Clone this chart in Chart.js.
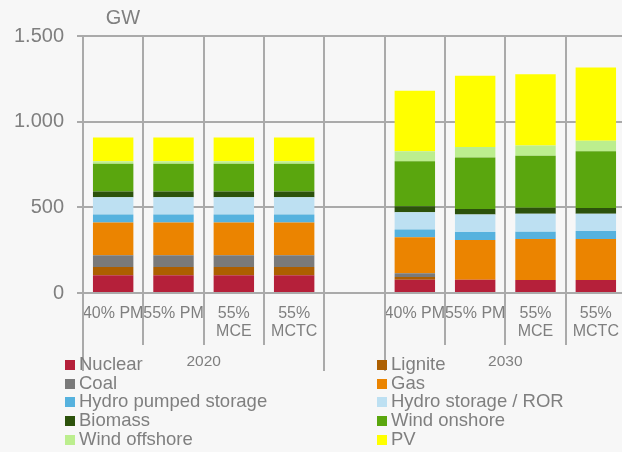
<!DOCTYPE html>
<html>
<head>
<meta charset="utf-8">
<script src="https://cdn.jsdelivr.net/npm/chart.js@4/dist/chart.umd.min.js"></script>
<style>
  html, body { margin: 0; padding: 0; background: #f7f7f7; overflow: hidden; width: 622px; height: 452px; }
  #wrap { position: absolute; left: 0; top: 0; width: 628px; height: 452px; }
</style>
</head>
<body>
<div id="wrap"><canvas id="c" width="628" height="452"></canvas></div>
<script>
// ---- data ----
const categories = [['40% PM'], ['55% PM'], ['55%', 'MCE'], ['55%', 'MCTC'], [''],
                    ['40% PM'], ['55% PM'], ['55%', 'MCE'], ['55%', 'MCTC']];
const groups = ['2020', '2030'];
const groupRanges = [[0, 3], [5, 8]];
const yTickLabels = ['0', '500', '1.000', '1.500'];
const yTickValues = [0, 500, 1000, 1500];
const unitLabel = 'GW';

const seriesNames = ['Nuclear', 'Lignite', 'Coal', 'Gas', 'Hydro pumped storage',
                     'Hydro storage / ROR', 'Biomass', 'Wind onshore', 'Wind offshore', 'PV'];
const nuclear      = [103, 103, 103, 103, null, 78, 78, 76, 76];
const lignite      = [49, 49, 49, 49, null, 16, 0, 0, 0];
const coal         = [68, 68, 68, 68, null, 21, 0, 0, 0];
const gas          = [191, 191, 191, 191, null, 210, 231, 239, 239];
const hydroPumped  = [47, 47, 47, 47, null, 45, 47, 43, 47];
const hydroStorage = [101, 101, 101, 101, null, 101, 102, 105, 101];
const biomass      = [33, 33, 33, 33, null, 35, 32, 35, 33];
const windOnshore  = [163, 163, 163, 163, null, 263, 301, 303, 332];
const windOffshore = [14, 14, 14, 14, null, 58, 61, 60, 60];
const pv           = [138, 138, 138, 138, null, 354, 416, 416, 428];

const seriesData = [nuclear, lignite, coal, gas, hydroPumped, hydroStorage, biomass, windOnshore, windOffshore, pv];
const seriesColors = ['#b5203a', '#ad5f00', '#7a7a7a', '#eb8400', '#56b2de',
                      '#bde0f2', '#2c520c', '#5aa60e', '#bcee8e', '#ffff00'];

// ---- styling ----
const FONT = "'Liberation Sans', Arial, sans-serif";
const TEXT = '#7f7f7f';
const GRID = '#aaaaaa';

const extras = {
  id: 'extras',
  afterDraw(chart) {
    const ctx = chart.ctx;
    const xs = chart.scales.x;
    const bottom = chart.chartArea.bottom;
    const n = categories.length;
    const w = xs.getPixelForValue(1) - xs.getPixelForValue(0);
    const groupEdges = [0];
    groupRanges.forEach(r => { groupEdges.push(r[0]); groupEdges.push(r[1] + 1); });
    ctx.save();
    ctx.strokeStyle = GRID;
    ctx.lineWidth = 2;
    for (let i = 0; i <= n; i++) {
      const bx = Math.round(xs.getPixelForValue(0) - w / 2 + i * w);
      const toY = groupEdges.includes(i) ? 371 : 345;
      ctx.beginPath();
      ctx.moveTo(bx, bottom);
      ctx.lineTo(bx, toY);
      ctx.stroke();
    }
    // group labels
    ctx.fillStyle = TEXT;
    ctx.textAlign = 'center';
    ctx.textBaseline = 'middle';
    ctx.font = '15.5px ' + FONT;
    groupRanges.forEach((r, gi) => {
      const cx = (xs.getPixelForValue(r[0]) + xs.getPixelForValue(r[1])) / 2;
      ctx.fillText(groups[gi], cx, 362);
    });
    // unit label
    ctx.font = '20px ' + FONT;
    ctx.fillText(unitLabel, 123, 18);
    // legend (two columns, row-wise)
    ctx.font = '18.5px ' + FONT;
    ctx.textAlign = 'left';
    const colX = [65, 377];
    for (let i = 0; i < seriesNames.length; i++) {
      const row = Math.floor(i / 2), col = i % 2;
      const cy = 364.8 + row * 18.7;
      ctx.fillStyle = seriesColors[i];
      ctx.fillRect(colX[col], Math.round(cy - 5), 10, 10);
      ctx.fillStyle = TEXT;
      ctx.fillText(seriesNames[i], colX[col] + 14, cy);
    }
    ctx.restore();
  }
};

new Chart(document.getElementById('c'), {
  type: 'bar',
  data: {
    labels: categories,
    datasets: seriesNames.map((name, i) => ({
      label: name,
      data: seriesData[i],
      backgroundColor: seriesColors[i],
      borderWidth: 0,
      categoryPercentage: 1,
      barPercentage: 0.67
    }))
  },
  options: {
    responsive: false,
    animation: false,
    layout: { padding: { top: 36, right: 2, bottom: 0, left: 0 } },
    plugins: { legend: { display: false }, tooltip: { enabled: false } },
    scales: {
      x: {
        stacked: true,
        grid: { color: GRID, lineWidth: 2, drawTicks: false, offset: true },
        border: { color: GRID, width: 2 },
        ticks: {
          autoSkip: false, maxRotation: 0, minRotation: 0,
          color: TEXT, padding: 12,
          font: { family: FONT, size: 16, lineHeight: 1.125 }
        },
        afterFit(s) { s.height = 159; s.paddingLeft = 0; s.paddingRight = 0; }
      },
      y: {
        stacked: true,
        min: 0, max: 1500,
        afterBuildTicks(s) { s.ticks = yTickValues.map(v => ({ value: v })); },
        grid: { color: GRID, lineWidth: 2, tickLength: 6 },
        border: { color: GRID, width: 2 },
        ticks: {
          color: TEXT, padding: 13,
          font: { family: FONT, size: 20 },
          callback(v) { const k = yTickValues.indexOf(v); return k >= 0 ? yTickLabels[k] : ''; }
        },
        afterFit(s) { s.width = 83; s.paddingTop = 0; s.paddingBottom = 0; }
      }
    }
  },
  plugins: [extras]
});
</script>
</body>
</html>
